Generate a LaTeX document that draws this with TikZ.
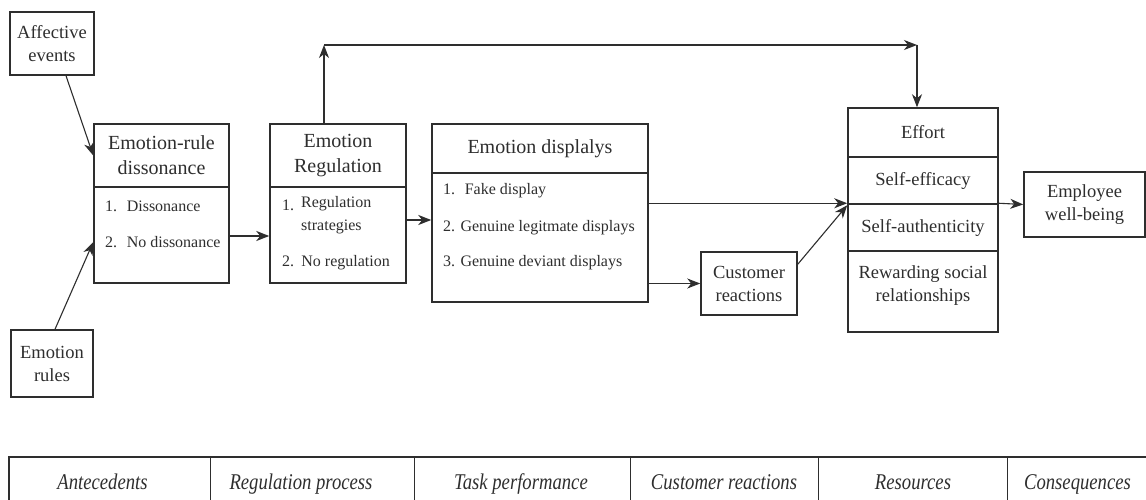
\documentclass[tikz,border=0pt]{standalone}
\usepackage{fontspec}
\setmainfont{Liberation Serif}
\newfontfamily\tabfont[FakeStretch=0.83]{Liberation Serif}
\usetikzlibrary{arrows.meta,calc}
\definecolor{ink}{HTML}{2E2E2E}
\tikzset{
  box/.style={draw=ink, line width=1.5pt, inner sep=0pt, align=center, text=ink},
  ttl/.style={font=\fontsize{20}{25}\selectfont},
  sml/.style={font=\fontsize{18.5}{23}\selectfont},
  item/.style={anchor=west, inner sep=0pt, text=ink, font=\fontsize{16}{23}\selectfont, align=left},
  conn/.style={draw=ink, line width=1.1pt, -{Stealth[length=13pt,width=10pt,inset=4pt]}},
  thick conn/.style={conn, line width=2.6pt},
  tabtxt/.style={text=ink, inner sep=0pt, anchor=base, font=\tabfont\itshape\fontsize{22.5}{26}\selectfont},
}
\begin{document}
\begin{tikzpicture}[x=1pt,y=-1pt]
\clip (0,0) rectangle (1146,500);
\fill[white] (0,0) rectangle (1146,500);

% antecedents
\node[box, sml, minimum width=84pt, minimum height=63pt] (aff) at (52,43.5) {Affective\\events};
\node[box, sml, minimum width=82pt, minimum height=67pt] (rules) at (52,363.5) {Emotion\\rules};

% emotion-rule dissonance
\node[box, ttl, minimum width=135pt, minimum height=63pt] (erdT) at (161.5,155.5) {Emotion-rule\\dissonance};
\node[box, minimum width=135pt, minimum height=96pt] (erdB) at (161.5,235) {};
\node[item] (erd1) at (105,206) {1.\hspace{0.6em}Dissonance};
\node[item] (erd2) at (105,242) {2.\hspace{0.6em}No dissonance};

% emotion regulation
\node[box, ttl, minimum width=136pt, minimum height=63pt] (regT) at (338,155.5) {Emotion\\Regulation};
\node[box, minimum width=136pt, minimum height=96pt] (regB) at (338,235) {};
\node[item] (reg1n) at (282,205) {1.};
\node[item, anchor=north west] (reg1) at (301,196) {Regulation\\strategies};
\node[item] (reg2) at (282,263) {2.\hspace{0.45em}No regulation};

% emotion displays
\node[box, ttl, minimum width=216pt, minimum height=49pt] (dispT) at (540,148.5) {Emotion displalys};
\node[box, minimum width=216pt, minimum height=129pt] (dispB) at (540,237.5) {};
\node[item] (disp1) at (443,191) {1.\hspace{0.6em}Fake display};
\node[item] (disp2) at (443,228) {2. Genuine legitmate displays};
\node[item] (disp3) at (443,263) {3. Genuine deviant displays};

% customer reactions
\node[box, sml, minimum width=96pt, minimum height=63pt] (cust) at (749,283.5) {Customer\\reactions};

% resources
\node[box, sml, minimum width=150pt, minimum height=49pt] (eff1) at (923,132.5) {Effort};
\node[box, sml, minimum width=150pt, minimum height=47pt] (eff2) at (923,180.5) {Self-efficacy};
\node[box, sml, minimum width=150pt, minimum height=47pt] (eff3) at (923,227.5) {Self-authenticity};
\node[box, minimum width=150pt, minimum height=81pt] (eff4) at (923,291.5) {};
\node[sml, text=ink, align=center, inner sep=0pt] (eff4t) at (923,286) {Rewarding social\\relationships};

% consequences
\node[box, sml, minimum width=121pt, minimum height=65pt] (emp) at (1084.5,204.5) {Employee\\well-being};

% connectors
\coordinate (affout) at ($(aff.south)+(14,0)$);
\coordinate (rulesout) at ($(rules.north)+(3,0)$);
\coordinate (erdin) at ($(erdB.west)+(0,7)$);
\draw[conn] (affout) -- (erdT.west);
\draw[conn] (rulesout) -- (erdin);
\draw[thick conn] (erdB.east |- 0,236) -- (regB.west |- 0,236);
\coordinate (up) at (324,45);
\coordinate (corner) at (917,45);
\draw[conn] (regT.north -| up) -- (up);
\draw[conn] (up) -- (corner);
\draw[conn] (corner) -- (eff1.north -| corner);
\draw[thick conn] (regB.east |- 0,220) -- (dispB.west |- 0,220);
\draw[conn] (dispB.east |- eff3.north west) -- (eff3.north west);
\draw[conn] (dispB.east |- cust.west) -- (cust.west);
\coordinate (custout) at ($(cust.north east)+(0,13)$);
\draw[conn] (custout) -- ($(eff3.north west)+(0,2)$);
\draw[conn] (eff3.north east) -- (emp.west);

% bottom table
\draw[ink, line width=1.2pt] (9,520) -- (9,457) -- (1150,457);
\foreach \xx in {210,414,630,818,1007} \draw[ink, line width=1pt] (\xx,457) -- (\xx,520);
\node[tabtxt] (t1) at (102.5,489) {Antecedents};
\node[tabtxt] (t2) at (301,489) {Regulation process};
\node[tabtxt] (t3) at (521,489) {Task performance};
\node[tabtxt] (t4) at (724,489) {Customer reactions};
\node[tabtxt] (t5) at (913,489) {Resources};
\node[tabtxt] (t6) at (1077.5,489) {Consequences};
\end{tikzpicture}
\end{document}
